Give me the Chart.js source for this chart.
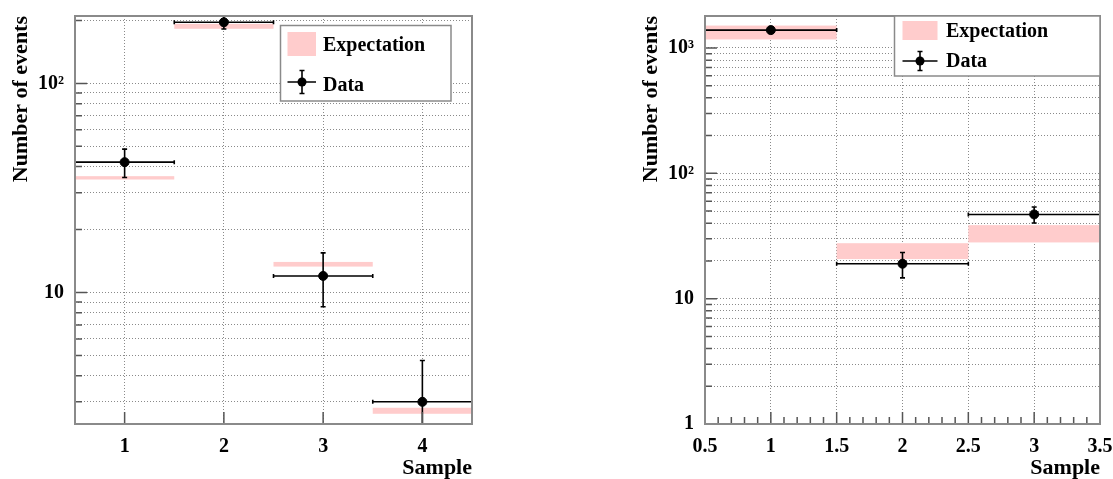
<!DOCTYPE html>
<html>
<head>
<meta charset="utf-8">
<title>Number of events per sample</title>
<script src="https://cdn.jsdelivr.net/npm/chart.js@4.4.1/dist/chart.umd.min.js"></script>
<style>
    html, body { margin: 0; padding: 0; background: #fff; }
    .panel { position: absolute; top: 0; height: 479px; }
    #panel-left { left: 0; width: 480px; }
    #panel-right { left: 630px; width: 483px; }
</style>
</head>
<body>
<div class="panel" id="panel-left"><canvas id="chart-left"></canvas></div>
<div class="panel" id="panel-right"><canvas id="chart-right"></canvas></div>
<script>
// ---- left panel: 4 samples ----
const leftSamples = [1, 2, 3, 4];
const leftData = [42, 196, 12, 3];
const leftDataErr = [6.5, 14, 3.46, 1.73];
const leftExpLow = [34.7, 182.4, 13.3, 2.63];
const leftExpHigh = [36.0, 192.6, 14.0, 2.81];
const leftXTicks = [1, 2, 3, 4];
const leftXTickLabels = ['1', '2', '3', '4'];
const leftYRange = [2.35, 210];
const leftYLabels = { 10: '10', 100: '10²' };

// ---- right panel: 3 samples ----
const rightSamples = [1, 2, 3];
const rightData = [1389, 19, 47];
const rightDataErr = [37, 4.36, 6.86];
const rightExpLow = [1170, 20.7, 28.1];
const rightExpHigh = [1510, 27.7, 38.6];
const rightXTicks = [0.5, 1, 1.5, 2, 2.5, 3, 3.5];
const rightXTickLabels = ['0.5', '1', '1.5', '2', '2.5', '3', '3.5'];
const rightYRange = [1, 1800];
const rightYLabels = { 1: '1', 10: '10', 100: '10²', 1000: '10³' };

const BIN_HALF = 0.5;
const SERIF = '"Liberation Serif", "Times New Roman", serif';
const PINK = '#ffcccc';
const FRAME = '#8a8a8a';
const TICKCOL = '#555';

// log grid: every 1..9 x decade inside the range
function logGrid(min, max) {
    const vals = [];
    for (let d = Math.floor(Math.log10(min)); d <= Math.ceil(Math.log10(max)); d++) {
        for (let m = 1; m <= 9; m++) {
            const v = m * Math.pow(10, d);
            if (v >= min * 0.999 && v <= max * 1.001) vals.push(v);
        }
    }
    return vals;
}

const rootFrame = {
    id: 'rootFrame',
    beforeDatasetsDraw(chart) {
        const { ctx, chartArea: a, scales: { x, y } } = chart;
        ctx.save();
        ctx.beginPath();
        ctx.rect(a.left, a.top, a.right - a.left, a.bottom - a.top);
        ctx.clip();

        // expectation bands
        const band = chart.data.datasets[0];
        ctx.fillStyle = band.backgroundColor;
        band.data.forEach(p => {
            const x0 = x.getPixelForValue(p.x - BIN_HALF);
            const x1 = x.getPixelForValue(p.x + BIN_HALF);
            const y0 = y.getPixelForValue(p.yHigh);
            const y1 = y.getPixelForValue(p.y);
            ctx.fillRect(x0, y0, x1 - x0, y1 - y0);
        });

        // data error bars
        const pts = chart.data.datasets[1];
        ctx.strokeStyle = '#000';
        ctx.lineWidth = 1.6;
        pts.data.forEach(p => {
            const xc = x.getPixelForValue(p.x);
            const yc = y.getPixelForValue(p.y);
            const xl = x.getPixelForValue(p.x - BIN_HALF);
            const xr = x.getPixelForValue(p.x + BIN_HALF);
            const yt = y.getPixelForValue(p.y + p.err);
            const yb = y.getPixelForValue(Math.max(p.y - p.err, 0.01));
            ctx.beginPath();
            ctx.moveTo(xl, yc); ctx.lineTo(xr, yc);
            ctx.moveTo(xl, yc - 2); ctx.lineTo(xl, yc + 2);
            ctx.moveTo(xr, yc - 2); ctx.lineTo(xr, yc + 2);
            ctx.moveTo(xc, yt); ctx.lineTo(xc, yb);
            ctx.moveTo(xc - 2.5, yt); ctx.lineTo(xc + 2.5, yt);
            ctx.moveTo(xc - 2.5, yb); ctx.lineTo(xc + 2.5, yb);
            ctx.stroke();
        });
        ctx.restore();
    },
    afterDatasetsDraw(chart, args, opts) {
        const { ctx, chartArea: a, scales: { x, y } } = chart;
        ctx.save();

        // inner tick marks
        ctx.strokeStyle = TICKCOL;
        ctx.lineWidth = 1.5;
        ctx.beginPath();
        y.ticks.forEach(t => {
            const py = y.getPixelForValue(t.value);
            const major = Math.abs(Math.log10(t.value) - Math.round(Math.log10(t.value))) < 1e-6;
            ctx.moveTo(a.left, py);
            ctx.lineTo(a.left + (major ? 12 : 7), py);
        });
        x.ticks.forEach(t => {
            const px = x.getPixelForValue(t.value);
            ctx.moveTo(px, a.bottom);
            ctx.lineTo(px, a.bottom - 12);
        });
        (opts.xMinor || []).forEach(v => {
            const px = x.getPixelForValue(v);
            ctx.moveTo(px, a.bottom);
            ctx.lineTo(px, a.bottom - 7);
        });
        ctx.stroke();

        // frame
        ctx.strokeStyle = FRAME;
        ctx.lineWidth = 2;
        ctx.strokeRect(a.left, a.top, a.right - a.left, a.bottom - a.top);

        // legend
        const L = opts.legend;
        const ds = chart.data.datasets;
        ctx.fillStyle = '#fff';
        ctx.fillRect(L.x, L.y, L.w, L.h);
        ctx.strokeStyle = FRAME;
        ctx.lineWidth = 1.5;
        ctx.strokeRect(L.x, L.y, L.w, L.h);

        ctx.fillStyle = ds[0].backgroundColor;
        ctx.fillRect(L.sx, L.sy, L.sw, L.sh);

        ctx.strokeStyle = '#000';
        ctx.lineWidth = 1.6;
        ctx.beginPath();
        ctx.moveTo(L.sx, L.my); ctx.lineTo(L.sx + L.sw, L.my);
        ctx.moveTo(L.mx, L.my - L.me); ctx.lineTo(L.mx, L.my + L.me);
        ctx.moveTo(L.mx - 2.5, L.my - L.me); ctx.lineTo(L.mx + 2.5, L.my - L.me);
        ctx.moveTo(L.mx - 2.5, L.my + L.me); ctx.lineTo(L.mx + 2.5, L.my + L.me);
        ctx.stroke();
        ctx.fillStyle = '#000';
        ctx.beginPath();
        ctx.arc(L.mx, L.my, 4.5, 0, Math.PI * 2);
        ctx.fill();

        ctx.font = 'bold 20px ' + SERIF;
        ctx.textAlign = 'left';
        ctx.textBaseline = 'alphabetic';
        ctx.fillText(ds[0].label, L.tx, L.b1);
        ctx.fillText(ds[1].label, L.tx, L.b2);
        ctx.restore();
    }
};

function makePanel(canvasId, cfg) {
    const el = document.getElementById(canvasId);
    const tickFont = { family: SERIF, size: 20, weight: 'bold' };
    const titleFont = { family: SERIF, size: 22, weight: 'bold' };

    return new Chart(el, {
        type: 'scatter',
        data: {
            datasets: [
                {
                    label: 'Expectation',
                    data: cfg.samples.map((s, i) => ({ x: s, y: cfg.expLow[i], yHigh: cfg.expHigh[i] })),
                    backgroundColor: PINK,
                    borderColor: PINK,
                    pointRadius: 0
                },
                {
                    label: 'Data',
                    data: cfg.samples.map((s, i) => ({ x: s, y: cfg.data[i], err: cfg.dataErr[i] })),
                    backgroundColor: '#000',
                    borderColor: '#000',
                    pointRadius: 4.5,
                    pointHoverRadius: 4.5
                }
            ]
        },
        options: {
            responsive: true,
            maintainAspectRatio: false,
            animation: false,
            events: [],
            layout: { padding: { top: 16, right: cfg.padRight, left: 0, bottom: 0 } },
            plugins: {
                legend: { display: false },
                tooltip: { enabled: false },
                rootFrame: { legend: cfg.legend, xMinor: cfg.xMinor }
            },
            scales: {
                x: {
                    type: 'linear',
                    min: cfg.xMin,
                    max: cfg.xMax,
                    afterBuildTicks: s => { s.ticks = cfg.xTicks.map(v => ({ value: v })); },
                    afterFit: s => { s.height = 55; s.paddingLeft = 0; s.paddingRight = 0; },
                    ticks: {
                        autoSkip: false, maxRotation: 0, padding: 11, color: '#000', font: tickFont,
                        callback: (v, i) => cfg.xTickLabels[i]
                    },
                    grid: { color: '#8a8a8a', lineWidth: 1, drawTicks: false },
                    border: { display: false, dash: [1, 2] },
                    title: {
                        display: true, text: 'Sample', align: 'end', color: '#000',
                        font: titleFont, padding: { top: 0, bottom: -3 }
                    }
                },
                y: {
                    type: 'logarithmic',
                    min: cfg.yRange[0],
                    max: cfg.yRange[1],
                    afterBuildTicks: s => { s.ticks = logGrid(cfg.yRange[0], cfg.yRange[1]).map(v => ({ value: v })); },
                    afterFit: s => { s.width = 75; s.paddingTop = 0; s.paddingBottom = 0; },
                    ticks: {
                        autoSkip: false, padding: 11, color: '#000', font: tickFont,
                        callback: v => cfg.yLabels[v] || ''
                    },
                    grid: { color: '#8a8a8a', lineWidth: 1, drawTicks: false },
                    border: { display: false, dash: [1, 2] },
                    title: {
                        display: true, text: 'Number of events', align: 'end', color: '#000',
                        font: titleFont, padding: { top: 8, bottom: 0 }
                    }
                }
            }
        },
        plugins: [rootFrame]
    });
}

const rightMinor = [];
for (let v = 0.6; v < 3.5; v += 0.1) {
    if (Math.abs(v * 2 - Math.round(v * 2)) > 1e-6) rightMinor.push(v);
}

makePanel('chart-left', {
    samples: leftSamples, data: leftData, dataErr: leftDataErr,
    expLow: leftExpLow, expHigh: leftExpHigh,
    xMin: 0.5, xMax: 4.5, xTicks: leftXTicks, xTickLabels: leftXTickLabels, xMinor: [],
    yRange: leftYRange, yLabels: leftYLabels, padRight: 8,
    legend: { x: 280.5, y: 25.5, w: 170.5, h: 75.5, sx: 287.5, sy: 32, sw: 28.5, sh: 24,
              tx: 323, b1: 51, b2: 91, mx: 302, my: 82, me: 11.5 }
});

makePanel('chart-right', {
    samples: rightSamples, data: rightData, dataErr: rightDataErr,
    expLow: rightExpLow, expHigh: rightExpHigh,
    xMin: 0.5, xMax: 3.5, xTicks: rightXTicks, xTickLabels: rightXTickLabels, xMinor: rightMinor,
    yRange: rightYRange, yLabels: rightYLabels, padRight: 13,
    legend: { x: 264.5, y: 16, w: 205.5, h: 60, sx: 272.5, sy: 21, sw: 35, sh: 19,
              tx: 316, b1: 37, b2: 67, mx: 290, my: 61, me: 9.5 }
});
</script>
</body>
</html>
